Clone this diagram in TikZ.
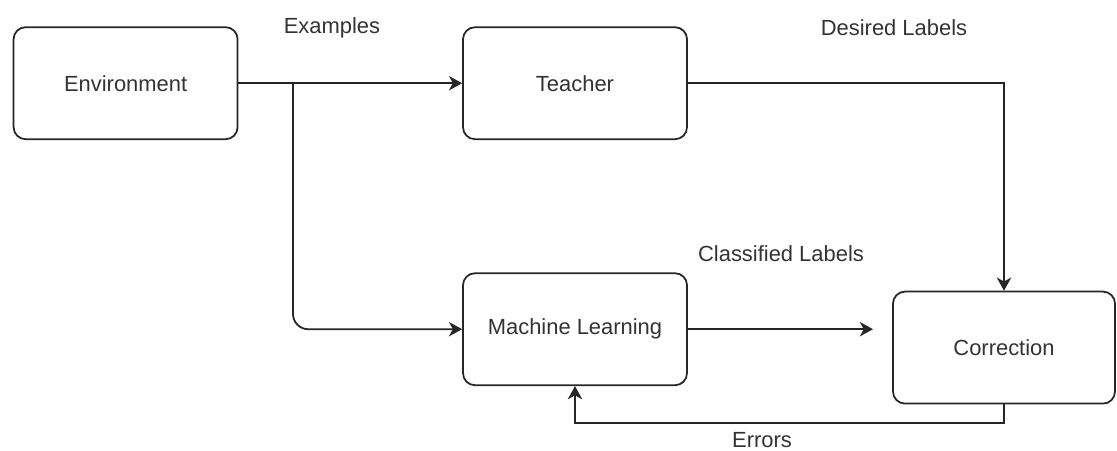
\documentclass[tikz,border=0pt]{standalone}
\usepackage{fontspec}
\setmainfont{Liberation Sans}
\usetikzlibrary{arrows.meta, positioning}

\tikzset{
  block/.style={draw=black!85, rounded corners=0.3cm, minimum width=5.6cm, minimum height=2.8cm, line width=1.25pt, text=black!80},
  flow/.style={-{Stealth[length=3.3mm, width=3.6mm, inset=1mm]}, line width=1.25pt, draw=black!85},
  tag/.style={text=black!80}
}

\begin{document}
\begin{tikzpicture}[font=\fontsize{15.6}{18}\selectfont]
    \useasboundingbox (0,0) rectangle (27.925,-11.25);

    % boxes
    \node[block] (env)     at (3.14,-2.08)   {Environment};
    \node[block] (teacher) at (14.375,-2.08) {Teacher};
    \node[block] (ml)      at (14.375,-8.23) {Machine Learning};
    \node[block, minimum width=5.55cm] (corr) at (25.1,-8.69) {Correction};

    % helper points
    \coordinate (split) at (7.325,-2.08);
    \coordinate (mlout) at (21.825,-8.23);
    \coordinate (low)   at (25.1,-10.575);

    % connectors
    \draw[flow] (env) -- (teacher);
    \draw[flow, rounded corners=0.38cm] (split) |- (ml);
    \draw[flow] (teacher) -| (corr);
    \draw[flow] (ml) -- (mlout);
    \draw[flow] (corr) -- (low) -| (ml);

    % labels
    \node[tag] (ex)   at (8.3,-0.7)     {Examples};
    \node[tag] (des)  at (22.35,-0.7)   {Desired Labels};
    \node[tag] (cls)  at (19.525,-6.35) {Classified Labels};
    \node[tag] (err)  at (19.05,-11.0)  {Errors};
\end{tikzpicture}
\end{document}
